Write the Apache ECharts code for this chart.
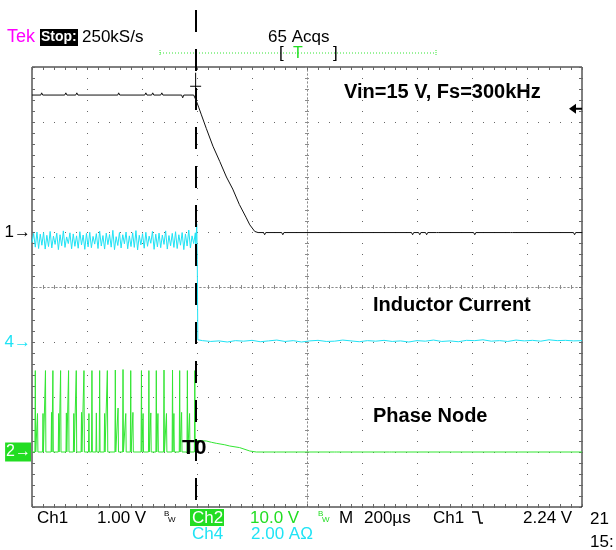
<!DOCTYPE html>
<html><head><meta charset="utf-8">
<script src="https://cdn.jsdelivr.net/npm/echarts@6/dist/echarts.min.js"></script>
<style>html,body{margin:0;padding:0;background:#fff}#c{width:616px;height:550px}</style>
</head><body><div id="c"></div>
<script>
// Time axis: microseconds relative to screen centre, 200 us/div, 10 divisions
const timeMin = -1000, timeMax = 1000, timeDiv = 200;
const triggerTime = -405;          // T0
const triggerLevel = 2.24;         // Ch1 trigger level, V

// Ch1 (black) output voltage, V  [time us, volts]
const ch1Points = [
  [-1000,2.49],[-968,2.49],[-965,2.53],[-961,2.49],[-881,2.49],[-877,2.53],[-873,2.49],
  [-841,2.49],[-837,2.53],[-833,2.49],[-688,2.49],[-685,2.53],[-681,2.49],[-590,2.49],
  [-586,2.53],[-582,2.49],[-565,2.49],[-561,2.53],[-557,2.49],[-532,2.49],[-528,2.53],
  [-524,2.49],[-456,2.49],[-452,2.44],[-448,2.49],[-412,2.49],[-403,2.39],[-394,2.27],
  [-384,2.13],[-366,1.88],[-342,1.56],[-317,1.28],[-293,1.0],[-270,0.78],[-246,0.50],
  [-222,0.27],[-208,0.13],[-190,0.01],[-178,-0.01],[-158,-0.01],[-154,-0.05],[-150,-0.01],
  [-92,-0.01],[-88,-0.05],[-84,-0.01],[380,-0.01],[384,-0.05],[388,-0.01],[406,-0.01],
  [410,-0.05],[414,-0.01],[431,-0.01],[435,-0.05],[439,-0.01],[471,-0.01],[475,-0.04],
  [479,-0.01],[606,-0.01],[610,-0.05],[614,-0.01],[740,-0.01],[744,-0.04],[748,-0.01],
  [969,-0.01],[973,-0.05],[977,-0.01],[1000,-0.01]
];

// Ch4 (cyan) inductor current, A : pre-trigger samples every 6 us from -1000 us
const ch4PreStart = -1000, ch4PreStep = 6;
const ch4PreAmps = [
  3.62,3.95,3.45,4.00,3.40,3.92,3.52,3.98,3.38,3.88,3.47,4.02,3.42,3.85,3.55,3.96,3.36,3.90,3.50,4.04,
  3.44,3.82,3.58,3.97,3.39,3.93,3.48,3.86,3.41,4.01,3.53,3.89,3.37,3.95,3.46,3.99,3.43,3.84,3.56,3.94,
  3.40,4.03,3.49,3.87,3.38,3.96,3.54,3.91,3.45,4.06,3.36,3.83,3.51,3.98,3.42,3.90,3.57,4.00,3.39,3.86,
  3.47,3.97,3.44,4.05,3.35,3.88,3.53,3.94,3.41,3.99,3.48,3.85,3.59,4.02,3.37,3.92,3.46,3.96,3.43,3.89,
  3.55,4.04,3.38,3.87,3.50,3.95,3.44,4.01,3.40,3.90,3.52,3.98,3.36,3.93,3.49,4.07,3.42,3.86,3.58,3.97
];
const ch4PostTime = [-404,-401,-399,-397,-380,-350,-320,-290,-260,-230,-200,-170,-140,-110,-80,-50,-20,10,40,70,
  100,130,160,190,220,250,280,310,340,370,400,430,460,490,520,550,580,610,640,670,700,730,760,790,820,850,880,910,940,970,1000];
const ch4PostAmps = [3.5,4.3,3.0,0.08,0.05,0.02,0.04,0.0,0.05,0.03,0.06,0.01,0.04,0.07,0.02,0.05,0.0,0.04,0.06,0.02,
  0.03,0.07,0.04,0.01,0.05,0.03,0.06,0.02,0.04,0.0,0.05,0.03,0.07,0.02,0.04,0.01,0.06,0.05,0.08,0.03,0.05,0.02,0.07,0.04,0.06,0.03,0.08,0.05,0.06,0.04,0.05];

// Ch2 (green) phase node, V : switching pulses before T0
const ch2PulseTime = [-988,-980,-960,-951,-929,-924,-903,-896,-875,-867,-848,-839,-820,-811,-793,-782,-766,-754,
  -736,-726,-697,-687,-669,-659,-641,-633,-602,-596,-575,-568,-548,-542,-520,-511,-489,-484,-463,-456,-435,-427,-408];
const ch2PulsePeak = [14.8,7.0,7.0,14.8,7.2,14.8,7.0,14.8,7.1,14.8,7.0,14.8,7.2,14.8,7.0,14.8,7.1,14.8,
  7.0,14.8,14.9,8.0,15.0,7.0,14.8,7.2,14.8,7.0,14.8,7.1,14.8,7.0,14.9,7.0,14.9,7.0,14.8,7.2,14.8,7.0,14.8];
const ch2PostPoints = [
  [-404,2.1],[-401,2.04],[-366,2.0],[-347,1.76],[-330,1.58],[-299,1.31],[-281,1.09],[-245,0.8],
  [-208,0.18],[-184,0.0],[-120,0.0],[-116,0.2],[-112,0.0],[100,0.0],[104,0.18],[108,0.0],
  [300,0.0],[304,0.15],[308,0.0],[520,0.0],[524,0.18],[528,0.0],[760,0.0],[764,0.15],[768,0.0],[1000,0.0]
];

// ---- build series data from the arrays ----
const ch4Data = ch4PreAmps.map((a, i) => [ch4PreStart + i * ch4PreStep, a])
  .concat(ch4PostTime.map((t, i) => [t, ch4PostAmps[i]]));
const ch2Data = [[-1000, 0]];
ch2PulseTime.forEach((t, i) => { ch2Data.push([t - 1.5, 0], [t, ch2PulsePeak[i]], [t + 1.5, 0]); });
ch2Data.push(...ch2PostPoints);

const GRAT = '#666';
const CEN = '#8c8c8c';
const F = '"Liberation Sans", Arial, sans-serif';
const borderX = (pos, inside) => ({
  type: 'value', gridIndex: 0, min: timeMin, max: timeMax, interval: timeDiv, position: pos,
  axisLine: { show: false, onZero: false }, axisLabel: { show: false },
  axisTick: { show: true, inside: inside, length: 3, lineStyle: { color: GRAT } },
  minorTick: { show: true, splitNumber: 5, length: 3, lineStyle: { color: GRAT } },
  splitLine: { show: false }
});
const borderY = (pos, inside) => ({
  type: 'value', gridIndex: 0, min: -4, max: 4, interval: 1, position: pos,
  axisLine: { show: false, onZero: false }, axisLabel: { show: false },
  axisTick: { show: true, inside: inside, length: 3, lineStyle: { color: GRAT } },
  minorTick: { show: true, splitNumber: 5, length: 3, lineStyle: { color: GRAT } },
  splitLine: { show: false }
});
const centre = (base, pos) => Object.assign(base(pos, false), {
  axisLine: { show: true, onZero: true, onZeroAxisIndex: 0, lineStyle: { color: CEN, type: [1, 3], width: 1 } },
  axisTick: { show: true, inside: false, length: 2, lineStyle: { color: CEN } },
  minorTick: { show: true, splitNumber: 5, length: 2, lineStyle: { color: CEN } }
});

const xAxes = [
  Object.assign(borderX('bottom', true), { splitLine: { show: true, lineStyle: { color: GRAT, type: [1, 10] } } }),
  borderX('top', true),
  centre(borderX, 'bottom'),
  centre(borderX, 'top'),
  { type: 'value', gridIndex: 1, min: timeMin, max: timeMax, show: false }
];
const yAxes = [
  Object.assign(borderY('left', true), { splitLine: { show: true, lineStyle: { color: GRAT, type: [1, 10] } } }),
  borderY('right', true),
  centre(borderY, 'left'),
  centre(borderY, 'right'),
  { type: 'value', gridIndex: 0, min: -5, max: 3, show: false },     // Ch1 1.00 V/div
  { type: 'value', gridIndex: 0, min: -6, max: 10, show: false },    // Ch4 2.00 A/div
  { type: 'value', gridIndex: 0, min: -10, max: 70, show: false },   // Ch2 10.0 V/div
  { type: 'value', gridIndex: 1, min: 0, max: 1, show: false }
];

const markerLabel = (txt, color, bg) => ({
  show: true, position: 'left', distance: 1, formatter: txt, color: color,
  fontFamily: F, fontSize: bg ? 16 : 17, backgroundColor: bg || 'transparent', padding: bg ? [2, 0, 1, 1] : 0
});

const chart = echarts.init(document.getElementById('c'), null, { renderer: 'canvas' });
chart.setOption({
  animation: false,
  backgroundColor: '#fff',
  grid: [
    { left: 32, top: 67, width: 550, height: 440, show: true, borderColor: '#000', borderWidth: 1, backgroundColor: 'transparent' },
    { left: 32, top: 0, width: 550, height: 500, show: false }
  ],
  xAxis: xAxes,
  yAxis: yAxes,
  series: [
    { type: 'line', name: 'Ch2', xAxisIndex: 0, yAxisIndex: 6, data: ch2Data, showSymbol: false, z: 3,
      lineStyle: { color: '#33e633', width: 1 }, itemStyle: { color: '#33e633' },
      markPoint: { symbol: 'circle', symbolSize: 0, silent: true,
        data: [{ coord: [timeMin, 0], label: markerLabel('2→', '#fff', '#22dd22') }] } },
    { type: 'line', name: 'Ch4', xAxisIndex: 0, yAxisIndex: 5, data: ch4Data, showSymbol: false, z: 4,
      lineStyle: { color: '#1fe3f5', width: 1 }, itemStyle: { color: '#1fe3f5' },
      markPoint: { symbol: 'circle', symbolSize: 0, silent: true,
        data: [{ coord: [timeMin, 0], label: markerLabel('4→', '#1fe3f5') }] } },
    { type: 'line', name: 'Ch1', xAxisIndex: 0, yAxisIndex: 4, data: ch1Points, showSymbol: false, z: 5,
      lineStyle: { color: '#111', width: 1 }, itemStyle: { color: '#111' },
      markPoint: { silent: true,
        data: [
          { coord: [timeMin, 0], symbol: 'circle', symbolSize: 0, label: markerLabel('1→', '#000') },
          { coord: [timeMax, triggerLevel], symbol: 'path://M0,5 L7,0 L7,4 L13,4 L13,6 L7,6 L7,10 Z',
            symbolSize: [13, 10], symbolOffset: [-6.5, 0], itemStyle: { color: '#000' }, label: { show: false } },
          { coord: [triggerTime, 2.65], symbol: 'path://M0,13 H11 V14 H0 Z M5,0 H6 V27 H5 Z',
            symbolSize: [11, 27], itemStyle: { color: '#000' }, label: { show: false } }
        ] } },
    { type: 'line', name: 'T0', xAxisIndex: 4, yAxisIndex: 7, data: [], z: 6,
      markLine: { silent: true, symbol: 'none', label: { show: false },
        lineStyle: { color: '#000', width: 2, type: [22, 17] },
        data: [{ xAxis: triggerTime }] } }
  ],
  graphic: [
    { type: 'text', x: 7, y: 37, style: { text: 'Tek', fill: '#ff00ff', font: '18px ' + F, verticalAlign: 'middle' } },
    { type: 'rect', shape: { x: 40, y: 29, width: 38, height: 17 }, style: { fill: '#000' } },
    { type: 'text', x: 41, y: 37, style: { text: 'Stop:', fill: '#fff', font: 'bold 14px ' + F, verticalAlign: 'middle' } },
    { type: 'text', x: 82, y: 37, style: { text: '250kS/s', fill: '#000', font: '17px ' + F, verticalAlign: 'middle' } },
    { type: 'text', x: 268, y: 37, style: { text: '65 Acqs', fill: '#000', font: '17px ' + F, verticalAlign: 'middle' } },
    { type: 'line', shape: { x1: 160, y1: 53, x2: 436, y2: 53 }, style: { stroke: '#33e633', lineWidth: 1, lineDash: [1, 2] } },
    { type: 'line', shape: { x1: 160, y1: 50, x2: 160, y2: 56 }, style: { stroke: '#33e633', lineWidth: 1, lineDash: [1, 1] } },
    { type: 'line', shape: { x1: 436, y1: 50, x2: 436, y2: 56 }, style: { stroke: '#33e633', lineWidth: 1, lineDash: [1, 1] } },
    { type: 'text', x: 279, y: 53, style: { text: '[', fill: '#000', font: '17px ' + F, verticalAlign: 'middle' } },
    { type: 'text', x: 293, y: 54, style: { text: 'T', fill: '#22dd22', font: '16px ' + F, verticalAlign: 'middle' } },
    { type: 'text', x: 333, y: 53, style: { text: ']', fill: '#000', font: '17px ' + F, verticalAlign: 'middle' } },
    { type: 'text', x: 344, y: 92, style: { text: 'Vin=15 V, Fs=300kHz', fill: '#000', font: 'bold 20px ' + F, verticalAlign: 'middle' } },
    { type: 'text', x: 373, y: 305, style: { text: 'Inductor Current', fill: '#000', font: 'bold 20px ' + F, verticalAlign: 'middle' } },
    { type: 'text', x: 373, y: 416, style: { text: 'Phase Node', fill: '#000', font: 'bold 20px ' + F, verticalAlign: 'middle' } },
    { type: 'text', x: 182, y: 448, z: 10, style: { text: 'T0', fill: '#000', font: 'bold 21px ' + F, verticalAlign: 'middle' } },
    { type: 'text', x: 37, y: 518, style: { text: 'Ch1', fill: '#000', font: '17px ' + F, verticalAlign: 'middle' } },
    { type: 'text', x: 97, y: 518, style: { text: '1.00 V', fill: '#000', font: '17px ' + F, verticalAlign: 'middle' } },
    { type: 'text', x: 164, y: 514, style: { text: 'B', fill: '#000', font: '8px ' + F, verticalAlign: 'middle' } },
    { type: 'text', x: 168, y: 520, style: { text: 'W', fill: '#000', font: '8px ' + F, verticalAlign: 'middle' } },
    { type: 'rect', shape: { x: 190, y: 509, width: 34, height: 17 }, style: { fill: '#22dd22' } },
    { type: 'text', x: 192, y: 518, style: { text: 'Ch2', fill: '#fff', font: '17px ' + F, verticalAlign: 'middle' } },
    { type: 'text', x: 250, y: 518, style: { text: '10.0 V', fill: '#22dd22', font: '17px ' + F, verticalAlign: 'middle' } },
    { type: 'text', x: 318, y: 514, style: { text: 'B', fill: '#22dd22', font: '8px ' + F, verticalAlign: 'middle' } },
    { type: 'text', x: 322, y: 520, style: { text: 'W', fill: '#22dd22', font: '8px ' + F, verticalAlign: 'middle' } },
    { type: 'text', x: 339, y: 518, style: { text: 'M', fill: '#000', font: '17px ' + F, verticalAlign: 'middle' } },
    { type: 'text', x: 364, y: 518, style: { text: '200µs', fill: '#000', font: '17px ' + F, verticalAlign: 'middle' } },
    { type: 'text', x: 433, y: 518, style: { text: 'Ch1', fill: '#000', font: '17px ' + F, verticalAlign: 'middle' } },
    { type: 'polyline', shape: { points: [[472, 512], [478, 512], [480, 523], [483, 523]] }, style: { stroke: '#000', lineWidth: 1.5, fill: null } },
    { type: 'text', x: 523, y: 518, style: { text: '2.24 V', fill: '#000', font: '17px ' + F, verticalAlign: 'middle' } },
    { type: 'text', x: 192, y: 534, style: { text: 'Ch4', fill: '#1fe3f5', font: '17px ' + F, verticalAlign: 'middle' } },
    { type: 'text', x: 251, y: 534, style: { text: '2.00 AΩ', fill: '#1fe3f5', font: '17px ' + F, verticalAlign: 'middle' } },
    { type: 'text', x: 590, y: 519, style: { text: '21', fill: '#000', font: '17px ' + F, verticalAlign: 'middle' } },
    { type: 'text', x: 590, y: 542, style: { text: '15:', fill: '#000', font: '17px ' + F, verticalAlign: 'middle' } }
  ]
});
</script></body></html>
